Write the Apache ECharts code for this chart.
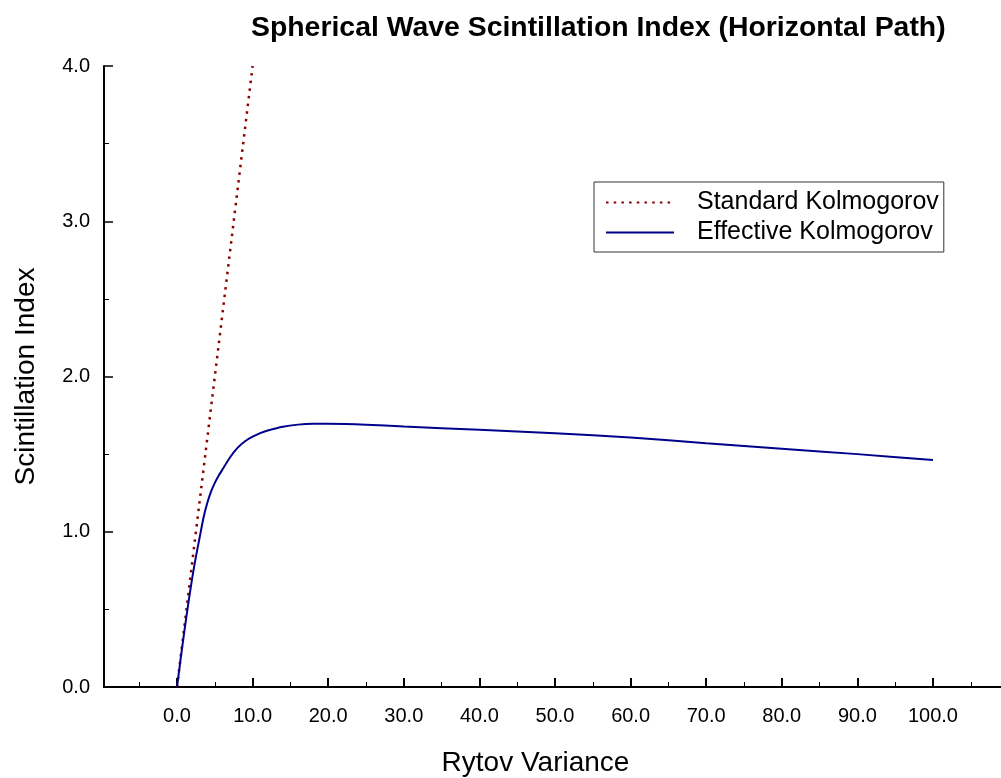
<!DOCTYPE html>
<html>
<head>
<meta charset="utf-8">
<script src="https://cdn.jsdelivr.net/npm/echarts@6/dist/echarts.min.js"></script>
<style>html,body{margin:0;padding:0;background:#fff}#c{width:1001px;height:778px}</style>
</head>
<body>
<div id="c"></div>
<script>
const titleText = 'Spherical Wave Scintillation Index (Horizontal Path)';
const xName = 'Rytov Variance';
const yName = 'Scintillation Index';
const seriesNames = ['Standard Kolmogorov', 'Effective Kolmogorov'];
const xMajorTicks = [0, 10, 20, 30, 40, 50, 60, 70, 80, 90, 100];
const xMinorTicks = [-5, 5, 15, 25, 35, 45, 55, 65, 75, 85, 95, 105];
const standardX = [0, 2, 4, 6, 8, 10];
const standardY = [0, 0.8, 1.6, 2.4, 3.2, 4.0];
const effectiveX = [0, 0.5, 1, 1.5, 2, 2.5, 3, 3.5, 4, 4.5, 5, 5.5, 6, 7, 8, 9, 10, 11, 12, 14, 16, 18, 20, 25, 30, 40, 50, 60, 70, 80, 90, 100];
const effectiveY = [0, 0.19, 0.37, 0.54, 0.70, 0.84, 0.965, 1.09, 1.185, 1.258, 1.315, 1.36, 1.40, 1.478, 1.54, 1.583, 1.612, 1.635, 1.652, 1.677, 1.69, 1.695, 1.695, 1.69, 1.678, 1.657, 1.635, 1.607, 1.57, 1.535, 1.50, 1.462];

const font = 'Arial, "Liberation Sans", sans-serif';
const xMin = -9.66, xMax = 109;
const chart = echarts.init(document.getElementById('c'));
chart.setOption({
  animation: false,
  backgroundColor: '#fff',
  textStyle: { fontFamily: font, color: '#000' },
  title: {
    text: titleText, left: 246, top: 9,
    textStyle: { fontFamily: font, fontSize: 28.4, fontWeight: 'bold', color: '#000' }
  },
  legend: {
    left: 594, top: 182, orient: 'vertical',
    padding: [8, 5, 7, 11],
    backgroundColor: '#fff', borderColor: '#333', borderWidth: 1,
    itemWidth: 68, itemHeight: 14, itemGap: 5,
    itemStyle: { opacity: 0 },
    textStyle: { fontFamily: font, fontSize: 25, color: '#000', padding: [0, 0, 0, 18] },
    data: seriesNames
  },
  grid: { left: 104, right: 0, top: 66, bottom: 91, containLabel: false, outerBoundsMode: 'none' },
  xAxis: [{
    type: 'value', min: xMin, max: xMax, position: 'bottom',
    name: xName, nameLocation: 'middle', nameGap: 62,
    nameTextStyle: { fontFamily: font, fontSize: 28, color: '#000', padding: [0, 34, 0, 0] },
    axisLine: { show: true, onZero: false, lineStyle: { color: '#000', width: 2 } },
    axisTick: { show: true, inside: true, length: 9, customValues: xMajorTicks, lineStyle: { color: '#000', width: 2 } },
    axisLabel: { show: true, customValues: xMajorTicks, fontSize: 20, color: '#000', margin: 19, fontFamily: font,
      formatter: v => Number(v).toFixed(1) },
    splitLine: { show: false }
  }, {
    type: 'value', min: xMin, max: xMax, position: 'bottom',
    axisLine: { show: false, onZero: false },
    axisTick: { show: true, inside: true, length: 5, customValues: xMinorTicks, lineStyle: { color: '#000', width: 1 } },
    axisLabel: { show: false },
    splitLine: { show: false }
  }],
  yAxis: {
    type: 'value', min: 0, max: 4, interval: 1,
    name: yName, nameLocation: 'middle', nameGap: 64,
    nameTextStyle: { fontFamily: font, fontSize: 28, color: '#000' },
    axisLine: { show: true, onZero: false, lineStyle: { color: '#000', width: 2 } },
    axisTick: { show: true, inside: true, length: 9, lineStyle: { color: '#000', width: 1.5 } },
    minorTick: { show: true, splitNumber: 2, length: 5, lineStyle: { color: '#000', width: 1 } },
    axisLabel: { fontSize: 20, color: '#000', margin: 14, fontFamily: font, formatter: v => Number(v).toFixed(1) },
    splitLine: { show: false }
  },
  series: [{
    name: seriesNames[0], type: 'line', xAxisIndex: 0, symbol: 'none',
    data: standardX.map((x, i) => [x, standardY[i]]),
    lineStyle: { color: '#8b0000', width: 2.5, type: [2.5, 5.2], cap: 'butt' },
    itemStyle: { color: '#8b0000' }
  }, {
    name: seriesNames[1], type: 'line', xAxisIndex: 0, symbol: 'none', smooth: 0.2,
    data: effectiveX.map((x, i) => [x, effectiveY[i]]),
    lineStyle: { color: '#00008b', width: 2 },
    itemStyle: { color: '#00008b' }
  }]
});
</script>
</body>
</html>
